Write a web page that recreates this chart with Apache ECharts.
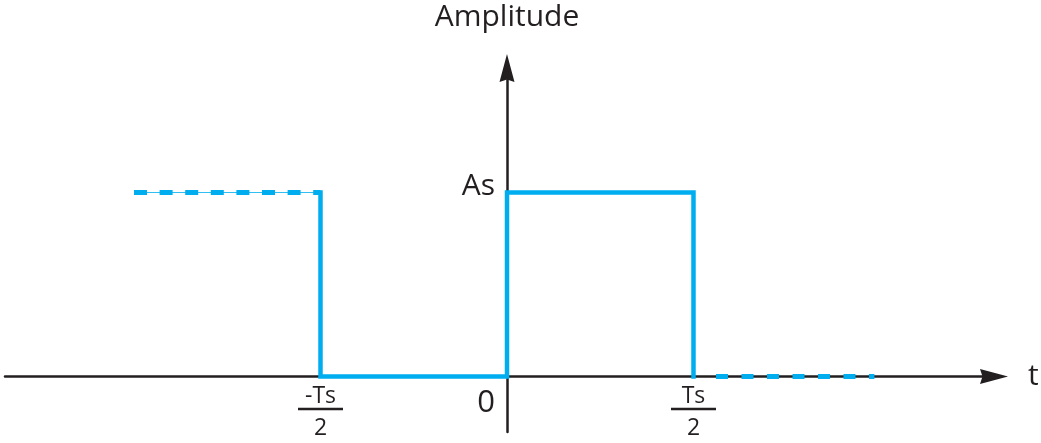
<!DOCTYPE html>
<html>
<head>
<meta charset="utf-8">
<script src="https://cdn.jsdelivr.net/npm/echarts@6/dist/echarts.min.js"></script>
<style>
  html, body { margin: 0; padding: 0; background: #ffffff; }
  #chart { width: 1041px; height: 443px; }
</style>
</head>
<body>
<div id="chart"></div>
<script>
// Rectangular pulse of amplitude As between 0 and Ts/2, with a repeating tail on each side
const pulseX = [-1, -1, 0, 0, 1, 1];
const pulseY = [1, 0, 0, 1, 1, 0];
const leftTailX = [-2, -1];
const leftTailY = [1, 1];
const rightTailX = [1, 1.97];
const rightTailY = [0, 0];

// Axis marks (time in units of Ts/2, amplitude in units of As)
const xTickValues = [-1, 0, 1];
const xTickLabels = ['-Ts/2', '0', 'Ts/2'];
const yTickValues = [1];
const yTickLabels = ['As'];
const xAxisTitle = 't';
const yAxisTitle = 'Amplitude';

const BLUE = '#00aeef';
const INK = '#231f20';
const FONT = 'Open Sans';

// Plot box and axis extents
const GRID = { left: 5, top: 68, width: 989, height: 364 };
const X_EXTENT = [-2.6917, 2.6113];
const Y_EXTENT = [-0.3016, 1.6766];

// The axes cross at the origin: shift each axis from the grid edge to the zero of the other one
const zeroFromLeft = GRID.width * (0 - X_EXTENT[0]) / (X_EXTENT[1] - X_EXTENT[0]);
const zeroFromBottom = GRID.height * (0 - Y_EXTENT[0]) / (Y_EXTENT[1] - Y_EXTENT[0]);

function pairs(xs, ys) { return xs.map((x, i) => [x, ys[i]]); }

function xLabel(value) {
  const idx = xTickValues.indexOf(value);
  const text = idx >= 0 ? xTickLabels[idx] : '';
  if (text.indexOf('/') >= 0) {
    const parts = text.split('/');
    return '{num|' + parts[0] + '}\n{bar| }\n{den|' + parts[1] + '}';
  }
  return '{zero|' + text + '}';
}

function yLabel(value) {
  const idx = yTickValues.indexOf(value);
  return idx >= 0 ? '{amp|' + yTickLabels[idx] + '}' : '';
}

const arrowPath = 'path://M7.5,0 L15,28 L7.5,25.5 L0,28 Z';

const chart = echarts.init(document.getElementById('chart'), null, { renderer: 'canvas' });

chart.setOption({
  animation: false,
  backgroundColor: '#ffffff',
  grid: Object.assign({ outerBoundsMode: 'none', containLabel: false }, GRID),
  xAxis: {
    type: 'value',
    position: 'bottom',
    offset: -zeroFromBottom,
    min: X_EXTENT[0],
    max: X_EXTENT[1],
    name: xAxisTitle,
    nameLocation: 'end',
    nameGap: 34,
    nameMoveOverlap: false,
    nameTextStyle: { fontFamily: FONT, fontSize: 30, color: INK, verticalAlign: 'middle', padding: [0, 0, 6, 0] },
    axisLine: {
      onZero: false,
      symbol: ['none', arrowPath],
      symbolSize: [15, 28],
      lineStyle: { color: INK, width: 2.5 }
    },
    axisTick: { show: false },
    splitLine: { show: false },
    axisLabel: {
      customValues: xTickValues,
      margin: 10,
      hideOverlap: false,
      formatter: xLabel,
      rich: {
        num: { fontFamily: FONT, fontSize: 23, color: INK, lineHeight: 20, align: 'center' },
        bar: { fontSize: 4, width: 45, height: 2.5, lineHeight: 5, backgroundColor: INK, align: 'center' },
        den: { fontFamily: FONT, fontSize: 23, color: INK, lineHeight: 34, align: 'center' },
        zero: { fontFamily: FONT, fontSize: 31, color: INK, lineHeight: 34, padding: [0, 42, 0, 0] }
      }
    }
  },
  yAxis: {
    type: 'value',
    position: 'left',
    offset: -zeroFromLeft,
    min: Y_EXTENT[0],
    max: Y_EXTENT[1],
    name: yAxisTitle,
    nameLocation: 'end',
    nameGap: 36,
    nameMoveOverlap: false,
    nameTextStyle: { fontFamily: FONT, fontSize: 30, color: INK },
    axisLine: {
      onZero: false,
      symbol: ['none', arrowPath],
      symbolSize: [15, 28],
      lineStyle: { color: INK, width: 2.5 }
    },
    axisTick: { show: false },
    splitLine: { show: false },
    axisLabel: {
      customValues: yTickValues,
      margin: 12,
      hideOverlap: false,
      formatter: yLabel,
      rich: {
        amp: { fontFamily: FONT, fontSize: 30, color: INK, padding: [0, 0, 13, 0] }
      }
    }
  },
  series: [
    {
      name: 'left tail guide',
      type: 'line',
      data: pairs(leftTailX, leftTailY),
      symbol: 'none',
      silent: true,
      lineStyle: { color: BLUE, width: 1.2, opacity: 0.8 }
    },
    {
      name: 'left tail',
      type: 'line',
      data: pairs(leftTailX, leftTailY),
      symbol: 'none',
      silent: true,
      lineStyle: { color: BLUE, width: 5, type: [13, 12.6], cap: 'butt' }
    },
    {
      name: 'right tail',
      type: 'line',
      data: pairs(rightTailX, rightTailY),
      symbol: 'none',
      silent: true,
      lineStyle: {
        color: BLUE, width: 5, cap: 'butt',
        type: [0, 22.5, 12, 13.5, 12, 13.5, 12, 13.5, 12, 13.5, 12, 13.5, 12, 13.5, 12, 200]
      }
    },
    {
      name: 'pulse',
      type: 'line',
      data: pairs(pulseX, pulseY),
      symbol: 'none',
      silent: true,
      lineStyle: { color: BLUE, width: 4.5, cap: 'square', join: 'miter' }
    }
  ]
});
</script>
</body>
</html>
